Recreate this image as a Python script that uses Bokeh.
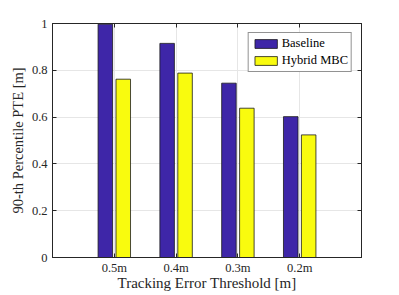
import numpy as np
from bokeh.plotting import figure
from bokeh.models import Range1d, FixedTicker, LinearAxis, Legend, LegendItem, CustomJSTickFormatter
from bokeh.embed import file_html
from bokeh.resources import INLINE

categories = ["0.5m", "0.4m", "0.3m", "0.2m"]
baseline = [0.997, 0.915, 0.745, 0.602]
hybrid = [0.762, 0.788, 0.638, 0.524]
y_ticks = [0, 0.2, 0.4, 0.6, 0.8, 1]

FONT = "Liberation Serif"
AX = "#262626"

x = np.arange(1, len(categories) + 1)

p = figure(frame_width=309, frame_height=234, output_backend="svg", toolbar_location=None,
           x_range=Range1d(0, 5), y_range=Range1d(0, 1),
           min_border_left=52, min_border_right=38, min_border_top=23, min_border_bottom=38)

r1 = p.vbar(x=x - 0.145, top=baseline, width=0.235, fill_color="#3E26A8",
            line_color="#1a1a1a", line_width=0.8)
r2 = p.vbar(x=x + 0.145, top=hybrid, width=0.235, fill_color="#F9FB0E",
            line_color="#1a1a1a", line_width=0.8)

p.xaxis.ticker = FixedTicker(ticks=list(x))
p.xaxis.major_label_overrides = {int(i): c for i, c in zip(x, categories)}
p.yaxis.ticker = FixedTicker(ticks=y_ticks)
p.yaxis.major_label_overrides = {0: "0", 1: "1"}

for ax in [p.xaxis[0], p.yaxis[0]]:
    ax.major_tick_in = 4
    ax.major_tick_out = 0
    ax.minor_tick_line_color = None
    ax.axis_line_color = AX
    ax.major_tick_line_color = AX
    ax.major_label_text_font = FONT
    ax.major_label_text_font_size = "12.5px"
    ax.major_label_text_color = AX
    ax.axis_label_text_font = FONT
    ax.axis_label_text_font_style = "normal"
    ax.axis_label_text_color = AX

p.xaxis.axis_label = "Tracking Error Threshold [m]"
p.yaxis.axis_label = "90-th Percentile PTE [m]"
p.xaxis.axis_label_text_font_size = "15px"
p.yaxis.axis_label_text_font_size = "14.5px"
p.xaxis.major_label_standoff = 3
p.xaxis.axis_label_standoff = -3
p.yaxis.major_label_standoff = 5
p.yaxis.axis_label_standoff = 3

blank = CustomJSTickFormatter(code="return ''")
top_ax = LinearAxis(ticker=FixedTicker(ticks=list(x)), formatter=blank,
                    major_tick_in=4, major_tick_out=0, minor_tick_line_color=None,
                    axis_line_color=AX, major_tick_line_color=AX, major_label_standoff=0)
right_ax = LinearAxis(ticker=FixedTicker(ticks=y_ticks), formatter=blank,
                      major_tick_in=4, major_tick_out=0, minor_tick_line_color=None,
                      axis_line_color=AX, major_tick_line_color=AX, major_label_standoff=0)
p.add_layout(top_ax, "above")
p.add_layout(right_ax, "right")

p.xgrid.grid_line_color = "#e6e6e6"
p.ygrid.grid_line_color = "#e6e6e6"
p.outline_line_color = AX

legend = Legend(items=[LegendItem(label="Baseline", renderers=[r1]),
                       LegendItem(label="Hybrid MBC", renderers=[r2])],
                location="top_right")
legend.label_text_font = FONT
legend.label_text_font_size = "12.5px"
legend.label_text_color = "black"
legend.glyph_width = 28
legend.glyph_height = 11
legend.label_height = 11
legend.label_standoff = 2
legend.spacing = 2
legend.padding = 3
legend.margin = 9
legend.border_line_color = AX
legend.border_line_width = 1
p.add_layout(legend)

open("out.html", "w").write(file_html(p, INLINE))
